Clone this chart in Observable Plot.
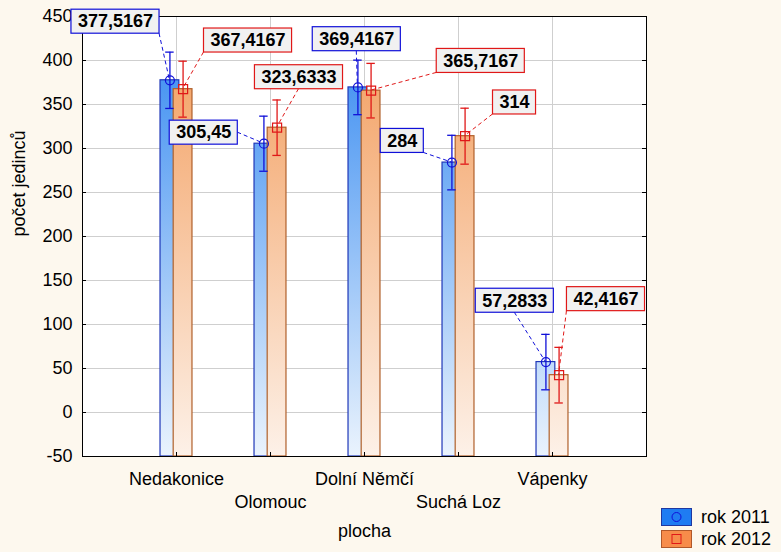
<!DOCTYPE html>
<html><head><meta charset="utf-8">
<script src="https://cdn.jsdelivr.net/npm/d3@7"></script>
<script src="https://cdn.jsdelivr.net/npm/@observablehq/plot@0.6"></script>
<style>
html,body{margin:0;padding:0;background:#fdf8ee;}
#wrap{position:relative;width:781px;height:552px;overflow:hidden;background:#fdf8ee;}
#legend{position:absolute;left:661px;top:506px;font:18px "Liberation Sans",Arial,sans-serif;color:#000;}
#legend .row{display:flex;align-items:center;height:22px;}
#legend svg{display:block;margin-right:9px;}
</style></head><body><div id="wrap"><div id="legend"></div></div>
<script>
// ---- data ----
const places = ["Nedakonice", "Olomouc", "Dolní Němčí", "Suchá Loz", "Vápenky"];
const years = ["rok 2011", "rok 2012"];
const mean2011 = [377.5167, 305.45, 369.4167, 284, 57.2833];
const mean2012 = [367.4167, 323.6333, 365.7167, 314, 42.4167];
const err2011 = [32, 31.3, 31, 31, 31.5];
const err2012 = [31.8, 31.5, 31, 31.8, 31.6];
const yTicks = [-50, 0, 50, 100, 150, 200, 250, 300, 350, 400, 450];
const xTicks = [1, 2, 3, 4, 5];

// ---- annotation layout (label box centres in data units, leader anchor on box) ----
const labelPos2011 = [[0.351, 444.1], [1.290, 318.0], [2.918, 424.2], [3.402, 308.6], [4.599, 127.0]];
const labelPos2012 = [[1.761, 422.7], [2.303, 381.0], [4.237, 399.5], [4.596, 352.3], [5.569, 128.8]];
const anchor2011 = [[1, 1], [1, 0.5], [0.5, 1], [1, 1], [0.5, 1]];
const anchor2012 = [[0, 1], [0.5, 1], [0, 1], [0, 1], [0, 1]];

const colors = {line: ["#1010d8", "#e01818"], edge: ["#2038b8", "#b0602a"]};
const fmt = v => String(v).replace(".", ",");

const rows = [];
places.forEach((p, i) => {
  rows.push({place: p, year: 0, pos: i + 1 - 0.07, mean: mean2011[i], err: err2011[i],
    label: fmt(mean2011[i]), lx: labelPos2011[i][0], ly: labelPos2011[i][1], ax: anchor2011[i][0], ay: anchor2011[i][1]});
  rows.push({place: p, year: 1, pos: i + 1 + 0.07, mean: mean2012[i], err: err2012[i],
    label: fmt(mean2012[i]), lx: labelPos2012[i][0], ly: labelPos2012[i][1], ax: anchor2012[i][0], ay: anchor2012[i][1]});
});
const r2011 = rows.filter(d => d.year === 0);
const r2012 = rows.filter(d => d.year === 1);

const ctx = document.createElement("canvas").getContext("2d");
ctx.font = "bold 18px 'Liberation Sans', Arial, sans-serif";

const defs = (index, scales, values, dims) => {
  const top = dims.marginTop, bottom = dims.height - dims.marginBottom;
  const d = d3.create("svg:defs");
  const mk = (id, c0, c1) => {
    const g = d.append("linearGradient").attr("id", id).attr("gradientUnits", "userSpaceOnUse")
      .attr("x1", 0).attr("x2", 0).attr("y1", top).attr("y2", bottom);
    g.append("stop").attr("offset", 0).attr("stop-color", c0);
    g.append("stop").attr("offset", 1).attr("stop-color", c1);
  };
  mk("gBlue", "#2f86f0", "#eaf3fd");
  mk("gOrange", "#f29a58", "#fdf1e8");
  return d.node();
};

const labelRender = (index, scales, values, dimensions, context, next) => {
  const g = next(index, scales, values, dimensions, context);
  const wrap = d3.create("svg:g");
  const boxes = [];
  for (const i of index) {
    const d = rows[i];
    const w = ctx.measureText(d.label).width + 13, h = 24;
    const x0 = values.x[i] - w / 2, y0 = values.y[i] - h / 2;
    boxes.push({d, x0, y0, w, h});
  }
  for (const b of boxes) {
    wrap.append("line")
      .attr("x1", b.x0 + b.d.ax * b.w).attr("y1", b.y0 + b.d.ay * b.h)
      .attr("x2", scales.x(b.d.pos)).attr("y2", scales.y(b.d.mean))
      .attr("stroke", colors.line[b.d.year]).attr("stroke-dasharray", "4,3").attr("stroke-width", 1);
  }
  for (const b of boxes) {
    wrap.append("rect").attr("x", b.x0).attr("y", b.y0).attr("width", b.w).attr("height", b.h)
      .attr("fill", "#f1f1f1").attr("stroke", colors.line[b.d.year]).attr("stroke-width", 1.2);
  }
  wrap.node().appendChild(g);
  return wrap.node();
};

const plot = Plot.plot({
  width: 781, height: 552,
  marginLeft: 82, marginRight: 135, marginTop: 16, marginBottom: 96,
  style: {fontFamily: "'Liberation Sans', Arial, sans-serif", fontSize: "18px", background: "transparent", overflow: "visible"},
  x: {type: "linear", domain: [0, 6], axis: null},
  y: {domain: [-50, 450], axis: null},
  marks: [
    defs,
    Plot.frame({fill: "white", stroke: "none"}),
    Plot.gridY(yTicks, {stroke: "#cfcfcf", strokeOpacity: 1}),
    Plot.gridX(xTicks, {stroke: "#cfcfcf", strokeOpacity: 1}),
    Plot.axisY(yTicks, {anchor: "left", tickSize: 0, tickPadding: 10, label: null, fontSize: 18, fill: "#000", tickFormat: d => String(d)}),
    // bars
    Plot.rect(r2011, {x1: d => d.pos - 0.1, x2: d => d.pos + 0.1, y1: -50, y2: "mean", fill: "url(#gBlue)", stroke: colors.edge[0], strokeWidth: 1.2}),
    Plot.rect(r2012, {x1: d => d.pos - 0.1, x2: d => d.pos + 0.1, y1: -50, y2: "mean", fill: "url(#gOrange)", stroke: colors.edge[1], strokeWidth: 1.2}),
    // error bars
    Plot.ruleX(rows, {x: "pos", y1: d => d.mean - d.err, y2: d => d.mean + d.err, stroke: d => colors.line[d.year], strokeWidth: 1.3}),
    Plot.ruleY(rows, {y: d => d.mean + d.err, x1: d => d.pos - 0.045, x2: d => d.pos + 0.045, stroke: d => colors.line[d.year], strokeWidth: 1.3}),
    Plot.ruleY(rows, {y: d => d.mean - d.err, x1: d => d.pos - 0.045, x2: d => d.pos + 0.045, stroke: d => colors.line[d.year], strokeWidth: 1.3}),
    // markers
    Plot.dot(r2011, {x: "pos", y: "mean", r: 4.5, symbol: "circle", stroke: colors.line[0], fill: "none", strokeWidth: 1.2}),
    Plot.dot(r2012, {x: "pos", y: "mean", r: 5.1, symbol: "square", stroke: colors.line[1], fill: "none", strokeWidth: 1.2}),
    // x tick labels (staggered)
    Plot.text(places.filter((p, i) => i % 2 === 0), {x: p => places.indexOf(p) + 1, y: -50, text: d => d, dy: 23, fontSize: 18, fill: "#000"}),
    Plot.text(places.filter((p, i) => i % 2 === 1), {x: p => places.indexOf(p) + 1, y: -50, text: d => d, dy: 46, fontSize: 18, fill: "#000"}),
    Plot.text(["plocha"], {frameAnchor: "bottom", dy: 80, fontSize: 18, fill: "#000"}),
    Plot.text(["počet jedinců"], {frameAnchor: "left", rotate: -90, dx: -63, fontSize: 18, fill: "#000"}),
    Plot.frame({stroke: "#000", strokeWidth: 1}),
    // inward tick marks
    Plot.ruleY(yTicks, {x1: 0, x2: 0, insetRight: -4, stroke: "#000"}),
    Plot.ruleY(yTicks, {x1: 6, x2: 6, insetLeft: -4, stroke: "#000"}),
    Plot.ruleX(xTicks, {y1: -50, y2: -50, insetTop: -4, stroke: "#000"}),
    // value labels with boxes and leaders
    Plot.text(rows, {x: "lx", y: "ly", text: "label", fontWeight: "bold", fontSize: 18, fill: "#000", render: labelRender})
  ]
});
document.getElementById("wrap").prepend(plot);

// legend
const legend = d3.select("#legend");
const sw = [
  {fill: "#1f7cf2", edge: "#2038a0", sym: "circle", c: colors.line[0]},
  {fill: "#f78c4a", edge: "#b0582a", sym: "square", c: colors.line[1]}
];
years.forEach((y, i) => {
  const row = legend.append("div").attr("class", "row");
  const s = row.append("svg").attr("width", 31).attr("height", 18);
  s.append("rect").attr("x", 0.5).attr("y", 0.5).attr("width", 30).attr("height", 17)
    .attr("fill", sw[i].fill).attr("stroke", sw[i].edge);
  if (sw[i].sym === "circle") s.append("circle").attr("cx", 15.5).attr("cy", 9).attr("r", 4.5).attr("fill", "none").attr("stroke", sw[i].c);
  else s.append("rect").attr("x", 11).attr("y", 4.5).attr("width", 9).attr("height", 9).attr("fill", "none").attr("stroke", sw[i].c);
  row.append("span").text(y);
});
</script>
</body></html>
